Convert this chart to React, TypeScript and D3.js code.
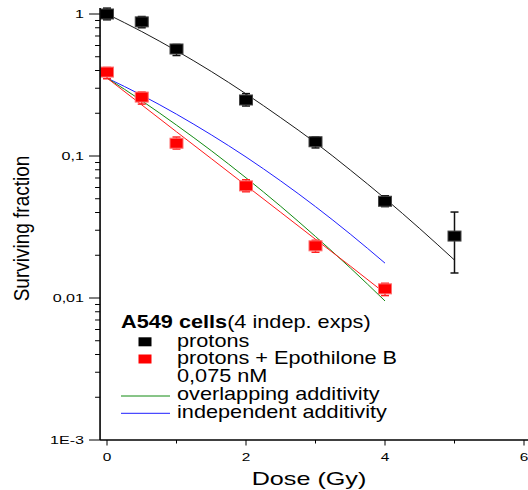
import React from "react";
import * as d3 from "d3";

// ---- data ----
const doses = [0, 0.5, 1, 2, 3, 4, 5];
const protonSF = [1.0, 0.88, 0.567, 0.248, 0.126, 0.048, 0.0273];
const protonLo = [0.91, 0.8, 0.51, 0.225, 0.114, 0.044, 0.015];
const protonHi = [1.1, 0.96, 0.61, 0.275, 0.136, 0.0525, 0.0403];

const epoDoses = [0, 0.5, 1, 2, 3, 4];
const epoSF = [0.39, 0.26, 0.123, 0.0616, 0.0233, 0.0116];
const epoLo = [0.35, 0.232, 0.112, 0.056, 0.021, 0.0104];
const epoHi = [0.42, 0.282, 0.136, 0.068, 0.0255, 0.0127];

const fitDoses = [0, 0.5, 1, 1.5, 2, 2.5, 3, 3.5, 4, 4.5, 5];
const protonFit = [1, 0.752, 0.551, 0.394, 0.274, 0.186, 0.124, 0.0797, 0.0502, 0.0308, 0.0185];
const combDoses = [0, 0.5, 1, 1.5, 2, 2.5, 3, 3.5, 4];
const epoFit = [0.354, 0.229, 0.148, 0.0959, 0.062, 0.0401, 0.0259, 0.0168, 0.0108];
const overlapFit = [0.354, 0.245, 0.165, 0.109, 0.0702, 0.0442, 0.0271, 0.0163, 0.00953];
const independentFit = [0.354, 0.268, 0.197, 0.141, 0.0984, 0.0667, 0.044, 0.0282, 0.0176];

const xTicks = [0, 2, 4, 6];
const xMinor = [1, 3, 5];
const yTickLabels: [number, string][] = [
  [1, "1"],
  [0.1, "0,1"],
  [0.01, "0,01"],
  [0.001, "1E-3"],
];

const legendTitleBold = "A549 cells";
const legendTitleRest = "(4 indep. exps)";
const legendItems = ["protons", "protons + Epothilone B", "0,075 nM", "overlapping additivity", "independent additivity"];

const FONT = "'Liberation Sans', Arial, sans-serif";

function SText({ x, y, sx = 1.25, size, anchor = "start", weight = "normal", children }: any) {
  return (
    <text
      transform={`translate(${x},${y}) scale(${sx},1)`}
      fontFamily={FONT}
      fontSize={size}
      fontWeight={weight}
      textAnchor={anchor}
      fill="#000"
    >
      {children}
    </text>
  );
}

export default function App() {
  const x = d3.scaleLinear().domain([0, 6]).range([107, 524]);
  const y = d3.scaleLog().domain([0.001, 1]).range([440, 14]);
  const axisX0 = x(-0.1);
  const yTop = y(1.1);

  const line = d3
    .line<[number, number]>()
    .x((d) => x(d[0]))
    .y((d) => y(d[1]))
    .curve(d3.curveMonotoneX);

  const mk = (xs: number[], ys: number[]) => xs.map((d, i) => [d, ys[i]] as [number, number]);

  const yAll = y.ticks().filter((t) => t >= 0.001 && t <= 1);

  const markers = (
    xs: number[],
    vs: number[],
    lo: number[],
    hi: number[],
    fill: string,
    stroke: string,
    errColor: string
  ) =>
    xs.map((d, i) => {
      const cx = x(d);
      const cy = y(vs[i]);
      return (
        <g key={i}>
          <line x1={cx} x2={cx} y1={y(hi[i])} y2={y(lo[i])} stroke={errColor} strokeWidth={1.5} />
          <line x1={cx - 4} x2={cx + 4} y1={y(hi[i])} y2={y(hi[i])} stroke={errColor} strokeWidth={1.5} />
          <line x1={cx - 4} x2={cx + 4} y1={y(lo[i])} y2={y(lo[i])} stroke={errColor} strokeWidth={1.5} />
          <rect x={cx - 6.5} y={cy - 5} width={13} height={10} fill={fill} stroke={stroke} strokeWidth={1} />
        </g>
      );
    });

  const lx = 121;
  const rowY = [346.5, 364.3, 382.3, 400.3, 418.3];

  return (
    <svg
      width={528}
      height={490}
      style={{ position: "absolute", left: 0, top: 0, background: "#fff" }}
    >
      <rect width={528} height={490} fill="#fff" />
      {/* curves */}
      <path d={line(mk(fitDoses, protonFit)) || ""} fill="none" stroke="#1a1a1a" strokeWidth={1} />
      <path d={line(mk(combDoses, independentFit)) || ""} fill="none" stroke="#1f1fff" strokeWidth={1} />
      <path d={line(mk(combDoses, overlapFit)) || ""} fill="none" stroke="#118a11" strokeWidth={1} />
      <path d={line(mk(combDoses, epoFit)) || ""} fill="none" stroke="#ff1a1a" strokeWidth={1} />

      {/* markers */}
      {markers(doses, protonSF, protonLo, protonHi, "#000", "#444", "#111")}
      {markers(epoDoses, epoSF, epoLo, epoHi, "#ff0000", "#ff7070", "#ff2020")}

      {/* axes */}
      <line x1={axisX0} x2={axisX0} y1={yTop} y2={440} stroke="#000" strokeWidth={1.6} />
      <line x1={axisX0} x2={528} y1={440} y2={440} stroke="#000" strokeWidth={1.6} />
      {yAll.map((t, i) => {
        const major = Math.abs(Math.log10(t) - Math.round(Math.log10(t))) < 1e-6;
        return (
          <line
            key={i}
            x1={axisX0 - (major ? 11 : 5)}
            x2={axisX0}
            y1={y(t)}
            y2={y(t)}
            stroke="#000"
            strokeWidth={1}
          />
        );
      })}
      {xTicks.map((t) => (
        <line key={"xt" + t} x1={x(t)} x2={x(t)} y1={440} y2={445.5} stroke="#000" strokeWidth={1} />
      ))}
      {xMinor.map((t) => (
        <line key={"xm" + t} x1={x(t)} x2={x(t)} y1={440} y2={443.5} stroke="#000" strokeWidth={1} />
      ))}
      {yTickLabels.map(([v, s]) => (
        <SText key={s} x={84} y={y(v) + 4.2} size={11.5} sx={1.4} anchor="end">
          {s}
        </SText>
      ))}
      {xTicks.map((t) => (
        <SText key={"xl" + t} x={x(t)} y={460.5} size={11} sx={1.4} anchor="middle">
          {t}
        </SText>
      ))}

      {/* axis titles */}
      <SText x={309} y={485} size={18.5} sx={1.36} anchor="middle">
        Dose (Gy)
      </SText>
      <text
        transform={`translate(29,228.5) rotate(-90) scale(1,1.2)`}
        fontFamily={FONT}
        fontSize={19}
        textAnchor="middle"
        fill="#000"
      >
        Surviving fraction
      </text>

      {/* legend */}
      <text
        transform={`translate(${lx},328.3) scale(1.24,1)`}
        fontFamily={FONT}
        fontSize={17.5}
        fill="#000"
      >
        <tspan fontWeight="bold">{legendTitleBold}</tspan>
        <tspan>{legendTitleRest}</tspan>
      </text>
      <rect x={138.5} y={337.3} width={13} height={9} fill="#000" />
      <rect x={138.5} y={354.5} width={13} height={9} fill="#ff0000" />
      <line x1={lx} x2={170} y1={396} y2={396} stroke="#118a11" strokeWidth={1} />
      <line x1={lx} x2={170} y1={413.3} y2={413.3} stroke="#1f1fff" strokeWidth={1} />
      {legendItems.map((s, i) => (
        <SText key={s} x={177} y={rowY[i]} size={17.5} sx={1.24}>
          {s}
        </SText>
      ))}
    </svg>
  );
}
